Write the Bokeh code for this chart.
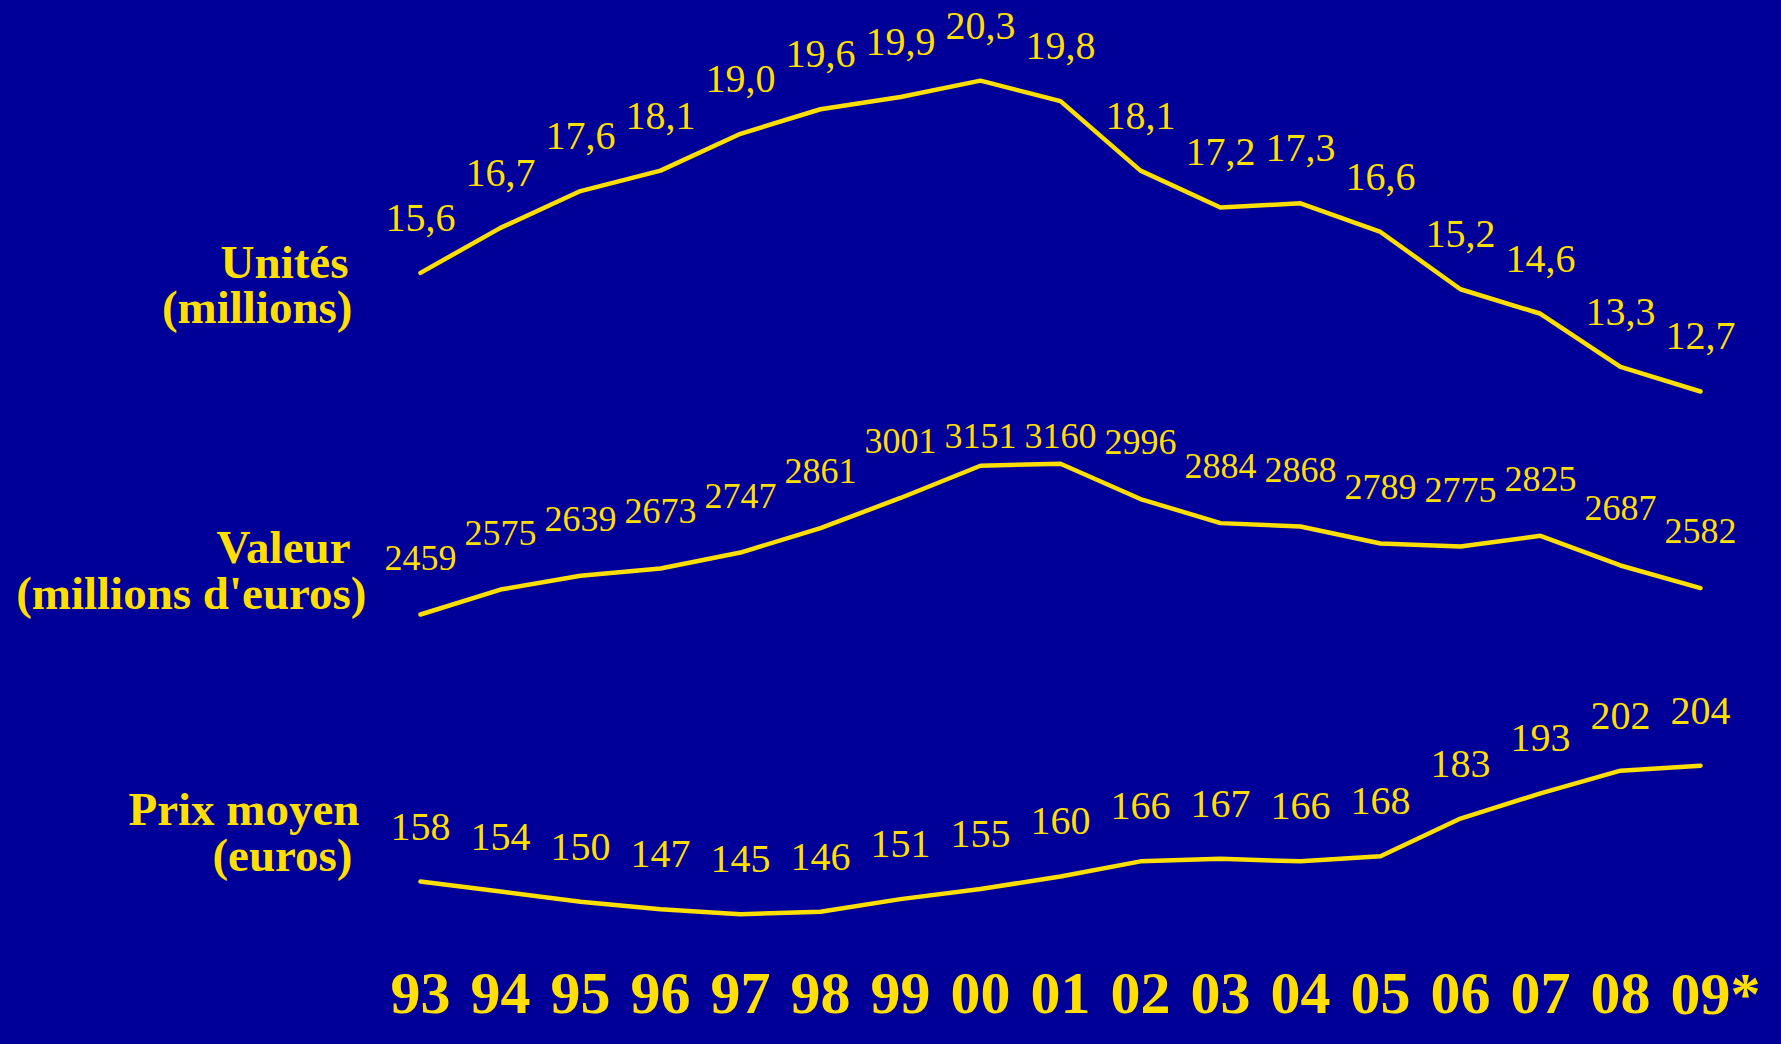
from bokeh.plotting import figure
from bokeh.models import Range1d, Label
from bokeh.core.properties import value
from bokeh.embed import file_html
from bokeh.resources import INLINE

# ---------------- data ----------------
years = ["93", "94", "95", "96", "97", "98", "99", "00", "01", "02", "03",
         "04", "05", "06", "07", "08", "09*"]
unites = [15.6, 16.7, 17.6, 18.1, 19.0, 19.6, 19.9, 20.3, 19.8, 18.1, 17.2,
          17.3, 16.6, 15.2, 14.6, 13.3, 12.7]
valeur = [2459, 2575, 2639, 2673, 2747, 2861, 3001, 3151, 3160, 2996, 2884,
          2868, 2789, 2775, 2825, 2687, 2582]
prix = [158, 154, 150, 147, 145, 146, 151, 155, 160, 166, 167, 166, 168,
        183, 193, 202, 204]
series_titles = [["Unités", "(millions)"],
                 ["Valeur", "(millions d'euros)"],
                 ["Prix moyen", "(euros)"]]

# ---------------- style / layout ----------------
BG = "#000099"
YEL = "#FFDF00"
FONT_NAME = "Liberation Serif"
FONT = value(FONT_NAME)
W, H = 1765, 1028
X0, DX = 420.0, 80.0          # pixel x of first year, pixel spacing per year
LW = 4.5

idx = list(range(len(years)))


def yrange(ref_v, ref_y, k):
    # ref_y: pixel from top where ref_v sits, k: pixels per unit
    return Range1d(start=ref_v - (H - ref_y) / k, end=ref_v + ref_y / k)


p = figure(width=W, height=H, output_backend="svg", toolbar_location=None,
           x_range=Range1d(0, W), y_range=Range1d(H, 0),
           x_axis_type=None, y_axis_type=None, min_border=0,
           background_fill_color=BG, border_fill_color=BG,
           outline_line_color=None)

p.extra_x_ranges = {"yr": Range1d(start=-X0 / DX, end=(W - X0) / DX)}
p.extra_y_ranges = {
    "u": yrange(16.34, 242.1, 40.9),
    "v": yrange(2459, 614.0, 0.215),
    "p": yrange(158, 881.0, 2.518),
}

fmt1 = lambda v: f"{v:.1f}".replace(".", ",")

# Unités
p.line(idx, unites, x_range_name="yr", y_range_name="u", line_color=YEL,
       line_width=LW, line_cap="round", line_join="round")
p.text(idx, unites, text=[fmt1(v) for v in unites], x_range_name="yr",
       y_range_name="u", text_font=FONT, text_font_size="40px",
       text_color=YEL, text_align="center", text_baseline="alphabetic",
       y_offset=-55)

# Valeur (labels kept below a ceiling, as in the original)
VCAP = 3026
p.line(idx, valeur, x_range_name="yr", y_range_name="v", line_color=YEL,
       line_width=LW, line_cap="round", line_join="round")
p.text(idx, [min(v, VCAP) for v in valeur], text=[str(v) for v in valeur],
       x_range_name="yr", y_range_name="v", text_font=FONT,
       text_font_size="36px", text_color=YEL, text_align="center",
       text_baseline="alphabetic", y_offset=-57)

# Prix moyen
p.line(idx, prix, x_range_name="yr", y_range_name="p", line_color=YEL,
       line_width=LW, line_cap="round", line_join="round")
p.text(idx, prix, text=[str(v) for v in prix], x_range_name="yr",
       y_range_name="p", text_font=FONT, text_font_size="40px",
       text_color=YEL, text_align="center", text_baseline="alphabetic",
       y_offset=-55)

# Year labels along the bottom
YEAR_Y = 993
p.text(idx, [YEAR_Y] * len(idx), text=years, x_range_name="yr",
       text_font=FONT, text_font_size="60px", text_font_style="bold",
       text_color=YEL, text_align="left", text_baseline="alphabetic",
       x_offset=-30)

# Series titles on the left
title_pos = [[(348, 261), (352, 306)],
             [(350, 546), (366, 592)],
             [(359, 808), (352, 854)]]
for lines, pos in zip(series_titles, title_pos):
    for txt, (x, y) in zip(lines, pos):
        p.add_layout(Label(x=x, y=y, text=txt, text_font=FONT_NAME,
                           text_font_size="47px", text_font_style="bold",
                           text_color=YEL, text_align="right",
                           text_baseline="alphabetic"))

html = file_html(p, INLINE, title="Ventes")
html = html.replace("</head>",
                    "<style>html,body{background:#000099;}</style></head>", 1)
open("out.html", "w").write(html)
